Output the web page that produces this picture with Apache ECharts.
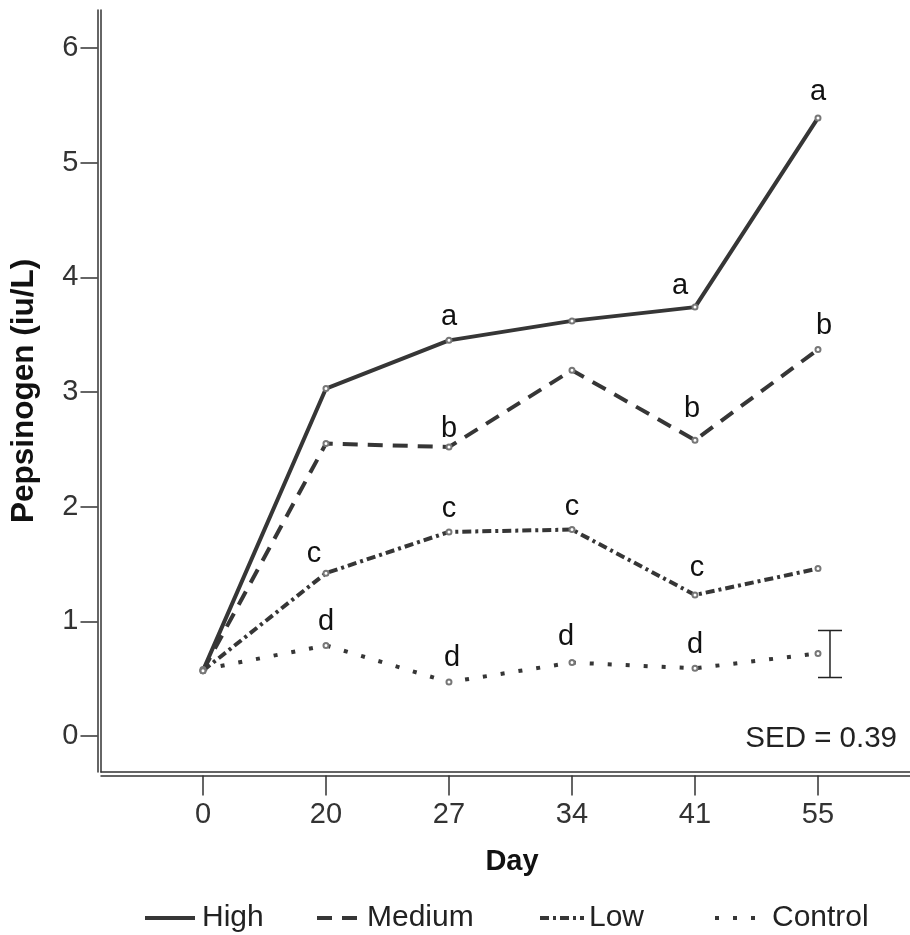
<!DOCTYPE html>
<html><head><meta charset="utf-8">
<script src="https://cdn.jsdelivr.net/npm/echarts@6/dist/echarts.min.js"></script>
<style>html,body{margin:0;padding:0;background:#fff}#c{width:910px;height:935px}</style>
</head><body><div id="c"></div>
<script>
// ---- data ----
const days = ['0', '20', '27', '34', '41', '55'];
const yTicks = [0, 1, 2, 3, 4, 5, 6];
const xTicks = [0, 1, 2, 3, 4, 5];
const seriesNames = ['High', 'Medium', 'Low', 'Control'];
const high    = [0.57, 3.03, 3.45, 3.62, 3.74, 5.39];
const medium  = [0.57, 2.55, 2.52, 3.19, 2.58, 3.37];
const low     = [0.57, 1.42, 1.78, 1.80, 1.23, 1.46];
const control = [0.58, 0.79, 0.47, 0.64, 0.59, 0.72];
const highLetters    = ['', '', 'a', '', 'a', 'a'];
const mediumLetters  = ['', '', 'b', '', 'b', 'b'];
const lowLetters     = ['', 'c', 'c', 'c', 'c', ''];
const controlLetters = ['', 'd', 'd', 'd', 'd', ''];
const sedBar = [0.51, 0.92];
const sedText = 'SED = 0.39';

// ---- styling ----
const FONT = '"Liberation Sans", Arial, sans-serif';
const LINE = '#363636';
const letterOffsets = {
  High:    {4: [-15, 2], 5: [0, -3]},
  Medium:  {2: [0, 5], 4: [-3, -8], 5: [6, -1]},
  Low:     {1: [-12, 4], 4: [2, -4]},
  Control: {2: [3, -1], 3: [-6, -3]}
};
const dashes = {
  High: 'solid',
  Medium: [15, 10],
  Low: [9, 4, 3, 4],
  Control: [4, 14]
};
const legendLeft = {High: 143, Medium: 315, Low: 538, Control: 713};
const legendWidth = {High: 50, Medium: 48, Low: 44, Control: 44};
const legendTextPad = {High: 2, Medium: -3, Low: 0, Control: 8};

function mk(name, vals, letters) {
  return {
    name: name,
    type: 'line',
    xAxisIndex: 0, yAxisIndex: 0,
    symbol: 'emptyCircle',
    symbolSize: 5,
    itemStyle: {color: '#777', borderWidth: 1},
    lineStyle: {color: LINE, width: 4, type: dashes[name]},
    emphasis: {disabled: true},
    z: 3,
    data: vals.map((v, i) => {
      const item = {value: [xTicks[i], v]};
      if (letters[i]) {
        item.label = {
          show: true, position: 'top', distance: 5,
          formatter: letters[i],
          offset: (letterOffsets[name][i] || [0, 0]),
          color: '#111', fontSize: 29, fontFamily: FONT
        };
      }
      return item;
    })
  };
}

const xMin = -0.829, xMax = 5.748;
const yMin = -0.314, yMax = 6.331;
const axisLineStyle = {color: '#333', width: 1.5};

const option = {
  animation: false,
  backgroundColor: '#fff',
  grid: {left: 101, right: 0, top: 10, bottom: 163, containLabel: false},
  xAxis: [
    {
      type: 'value', position: 'bottom', offset: 3.5, min: xMin, max: xMax,
      axisLine: {show: true, onZero: false, lineStyle: axisLineStyle},
      axisTick: {show: true, length: 20, inside: false, customValues: xTicks, lineStyle: axisLineStyle},
      axisLabel: {show: true, customValues: xTicks, margin: 25, formatter: v => days[Math.round(v)],
                  color: '#333', fontSize: 29, fontFamily: FONT},
      splitLine: {show: false},
      name: 'Day', nameLocation: 'middle', nameGap: 72,
      nameTextStyle: {fontSize: 29, fontWeight: 'bold', color: '#111', fontFamily: FONT, padding: [0, 0, 0, 13]}
    },
    {
      type: 'value', position: 'bottom', offset: 0, min: xMin, max: xMax,
      axisLine: {show: true, onZero: false, lineStyle: axisLineStyle},
      axisTick: {show: false}, axisLabel: {show: false}, splitLine: {show: false}
    }
  ],
  yAxis: [
    {
      type: 'value', position: 'left', offset: 3.5, min: yMin, max: yMax,
      axisLine: {show: true, onZero: false, lineStyle: axisLineStyle},
      axisTick: {show: true, length: 17, customValues: yTicks, lineStyle: axisLineStyle},
      axisLabel: {show: true, customValues: yTicks, margin: 19, color: '#333', fontSize: 29, fontFamily: FONT},
      splitLine: {show: false},
      name: 'Pepsinogen (iu/L)', nameLocation: 'middle', nameGap: 57, nameRotate: 90,
      nameTextStyle: {fontSize: 31.5, fontWeight: 'bold', color: '#111', fontFamily: FONT}
    },
    {
      type: 'value', position: 'left', offset: 0, min: yMin, max: yMax,
      axisLine: {show: true, onZero: false, lineStyle: axisLineStyle},
      axisTick: {show: false}, axisLabel: {show: false}, splitLine: {show: false}
    }
  ],
  legend: seriesNames.map(n => ({
    data: [n],
    left: legendLeft[n], top: 903, padding: 0,
    itemWidth: legendWidth[n], itemHeight: 14, itemGap: 0,
    itemStyle: {opacity: 0},
    lineStyle: {width: 4},
    textStyle: {fontSize: 30, color: '#222', fontFamily: FONT, padding: [0, 0, 0, legendTextPad[n]]},
    selectedMode: false
  })),
  graphic: [
    {type: 'text', right: 13, top: 724,
     style: {text: sedText, fontSize: 29.5, fill: '#222', fontFamily: FONT}}
  ],
  series: [
    mk('Control', control, controlLetters),
    mk('Low', low, lowLetters),
    mk('Medium', medium, mediumLetters),
    mk('High', high, highLetters),
    {
      type: 'custom', name: 'SED', xAxisIndex: 0, yAxisIndex: 0, z: 4,
      data: [[xTicks[xTicks.length - 1], sedBar[0], sedBar[1]]],
      renderItem: function (params, api) {
        const lo = api.coord([api.value(0), api.value(1)]);
        const hi = api.coord([api.value(0), api.value(2)]);
        const x = lo[0] + 12, cap = 12;
        const st = {stroke: '#222', lineWidth: 1.5};
        return {type: 'group', children: [
          {type: 'line', shape: {x1: x, y1: lo[1], x2: x, y2: hi[1]}, style: st},
          {type: 'line', shape: {x1: x - cap, y1: lo[1], x2: x + cap, y2: lo[1]}, style: st},
          {type: 'line', shape: {x1: x - cap, y1: hi[1], x2: x + cap, y2: hi[1]}, style: st}
        ]};
      }
    }
  ]
};
const chart = echarts.init(document.getElementById('c'), null, {renderer: 'canvas'});
chart.setOption(option);
</script>
</body></html>
